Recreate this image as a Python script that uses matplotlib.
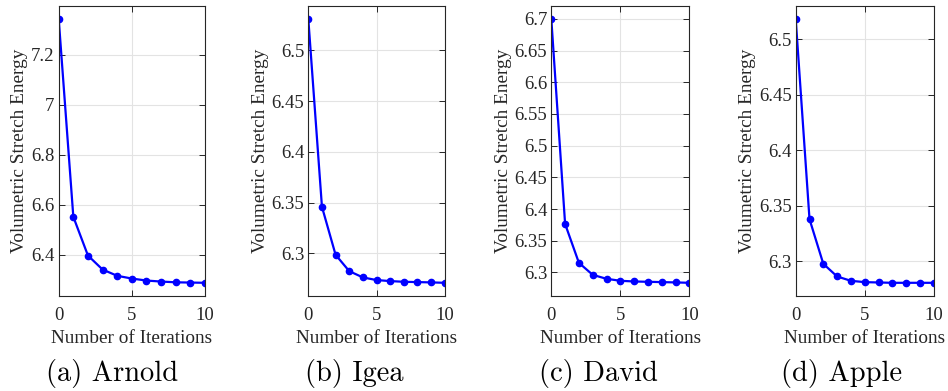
import matplotlib.pyplot as plt
import numpy as np

# iterations 0..10
iters = np.arange(11)

# volumetric stretch energy per model
arnold = [7.343, 6.551, 6.396, 6.340, 6.315, 6.304, 6.296, 6.292, 6.289, 6.288, 6.287]
igea = [6.531, 6.346, 6.2987, 6.2826, 6.2764, 6.2738, 6.2728, 6.2721, 6.2718, 6.2715, 6.2711]
david = [6.700, 6.3766, 6.3152, 6.2963, 6.2900, 6.2869, 6.2858, 6.2853, 6.2848, 6.2843, 6.2837]
apple = [6.5183, 6.3381, 6.2979, 6.2865, 6.2826, 6.2814, 6.2811, 6.2808, 6.2808, 6.2808, 6.2808]

captions = ['(a) Arnold', '(b) Igea', '(c) David', '(d) Apple']
yticks = [
    [6.4, 6.6, 6.8, 7.0, 7.2],
    [6.3, 6.35, 6.4, 6.45, 6.5],
    [6.3, 6.35, 6.4, 6.45, 6.5, 6.55, 6.6, 6.65, 6.7],
    [6.3, 6.35, 6.4, 6.45, 6.5],
]
ytick_labels = [
    ['6.4', '6.6', '6.8', '7', '7.2'],
    ['6.3', '6.35', '6.4', '6.45', '6.5'],
    ['6.3', '6.35', '6.4', '6.45', '6.5', '6.55', '6.6', '6.65', '6.7'],
    ['6.3', '6.35', '6.4', '6.45', '6.5'],
]
series = [arnold, igea, david, apple]

# axes boxes in pixels: left, right; caption centres
W, H = 948, 391
boxes = [(58.7, 205.0), (308.3, 444.7), (551.3, 689.3), (795.7, 933.7)]
cap_x = [112, 354, 598, 842]
top_px, bot_px = 5.7, 296.0

fig = plt.figure(figsize=(W / 100, H / 100), dpi=100)

for i, (vals, cap) in enumerate(zip(series, captions)):
    l, r = boxes[i]
    ax = fig.add_axes([l / W, 1 - bot_px / H, (r - l) / W, (bot_px - top_px) / H])
    ax.plot(iters, vals, '-o', color='blue', lw=1.6, ms=4.5)
    vmin, vmax = min(vals), max(vals)
    pad = 0.05 * (vmax - vmin)
    ax.set_ylim(vmin - pad, vmax + pad)
    ax.set_xlim(0, 10)
    ax.set_xticks([0, 5, 10])
    ax.set_yticks(yticks[i])
    ax.set_yticklabels(ytick_labels[i])
    ax.grid(True, color='#e3e3e3', lw=0.8)
    ax.set_axisbelow(True)
    ax.tick_params(direction='in', top=True, right=True, length=4, width=0.7,
                   colors='#262626', labelsize=13.5)
    ax.tick_params(axis='x', pad=8)
    ax.tick_params(axis='y', pad=3)
    for lab in ax.get_xticklabels() + ax.get_yticklabels():
        lab.set_fontfamily('Liberation Serif')
    for sp in ax.spines.values():
        sp.set_color('#262626')
        sp.set_linewidth(0.8)
    ax.set_xlabel('Number of Iterations', family='Liberation Serif', fontsize=13.9,
                  color='#262626', labelpad=4)
    ax.set_ylabel('Volumetric Stretch Energy', family='Liberation Serif', fontsize=13.9,
                  color='#262626', labelpad=2)
    fig.text(cap_x[i] / W, 1 - 373 / H, cap, family='cmr10', fontsize=20.5,
             ha='center', va='center')

fig.savefig('out.png', dpi=100)
